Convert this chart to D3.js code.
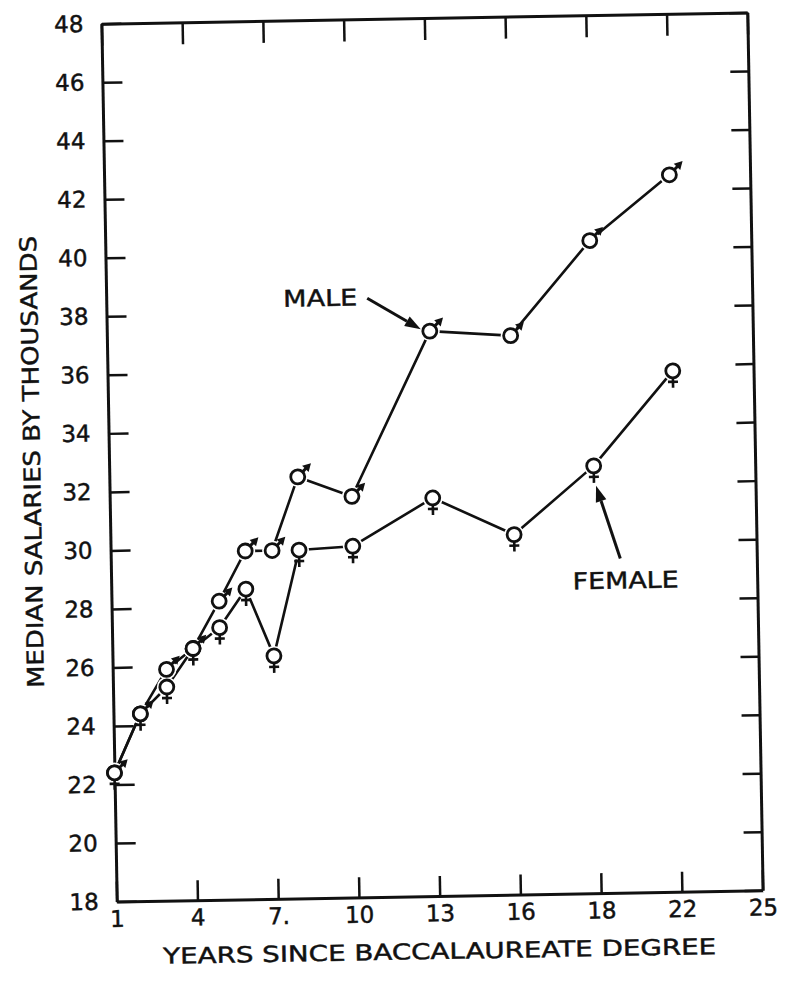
<!DOCTYPE html>
<html><head><meta charset="utf-8">
<script src="https://cdn.jsdelivr.net/npm/d3@7"></script>
<style>body{margin:0;background:#fff} svg{display:block}</style>
</head><body>
<svg id="chart" width="786" height="985"></svg>
<script>
// ---- data ----
const yearTicks = [1, 4, 7, 10, 13, 16, 18, 22, 25];
const yearTickLabels = ["1", "4", "7.", "10", "13", "16", "18", "22", "25"];
const salaryTicks = [18, 20, 22, 24, 26, 28, 30, 32, 34, 36, 38, 40, 42, 44, 46, 48];
const years = [1, 2, 3, 4, 5, 6, 7, 8, 10, 13, 16, 18, 22];
const maleSalary = [22.4, 24.4, 25.9, 26.6, 28.2, 29.9, 29.9, 32.4, 31.7, 37.3, 37.1, 40.3, 42.5];
const femaleSalary = [22.4, 24.4, 25.3, 26.6, 27.3, 28.6, 26.3, 29.9, 30.0, 31.6, 30.3, 32.6, 35.8];
const xTitle = "YEARS SINCE BACCALAUREATE DEGREE";
const yTitle = "MEDIAN SALARIES BY THOUSANDS";
const maleLabel = "MALE", femaleLabel = "FEMALE";
const maleLabelYear = 13, femaleLabelYear = 18;

// ---- layout ----
const L = 109, R = 755, T = 18, B = 896;
const ink = "#111";
const font = "'DejaVu Sans', Verdana, sans-serif";
const svg = d3.select("#chart");
const g = svg.append("g").attr("transform", `rotate(-1 ${(L + R) / 2} ${(T + B) / 2})`);

const x = d3.scaleLinear().domain(yearTicks)
  .range(yearTicks.map((d, i) => L + i * (R - L) / (yearTicks.length - 1)));
const y = d3.scaleLinear().domain([18, 48]).range([B, T]);

function textStyle(sel, size) {
  sel.attr("fill", ink).attr("stroke", ink).attr("stroke-width", 0.45)
    .style("font-family", font).style("font-size", size + "px");
}
function styleAxis(sel) {
  sel.select(".domain").attr("stroke", ink).attr("stroke-width", 3).attr("fill", "none");
  sel.selectAll(".tick line").attr("stroke", ink).attr("stroke-width", 2.5);
  sel.selectAll(".tick text").call(textStyle, 23);
}

g.append("g").attr("transform", `translate(0,${B})`)
  .call(d3.axisBottom(x).tickValues(yearTicks).tickFormat(d => yearTickLabels[yearTicks.indexOf(d)])
    .tickSizeInner(-20).tickSizeOuter(0).tickPadding(9))
  .call(styleAxis);
g.append("g").attr("transform", `translate(0,${T})`)
  .call(d3.axisTop(x).tickValues(yearTicks).tickFormat("").tickSizeInner(-22).tickSizeOuter(0))
  .call(styleAxis);
g.append("g").attr("transform", `translate(${L},0)`)
  .call(d3.axisLeft(y).tickValues(salaryTicks).tickFormat(d3.format("d"))
    .tickSizeInner(-20).tickSizeOuter(0).tickPadding(18))
  .call(styleAxis);
g.append("g").attr("transform", `translate(${R},0)`)
  .call(d3.axisRight(y).tickValues(salaryTicks).tickFormat("").tickSizeInner(-18).tickSizeOuter(0))
  .call(styleAxis);

// axis titles
g.append("text").attr("x", (L + R) / 2 - 1).attr("y", 959).attr("text-anchor", "middle")
  .attr("textLength", 553).attr("lengthAdjust", "spacingAndGlyphs")
  .call(textStyle, 22).text(xTitle);
g.append("text").attr("transform", "translate(40,455) rotate(-90)").attr("text-anchor", "middle")
  .attr("textLength", 452).attr("lengthAdjust", "spacingAndGlyphs")
  .call(textStyle, 23).text(yTitle);

// ---- series ----
const maleData = years.map((yr, i) => ({ year: yr, v: maleSalary[i] }));
const femaleData = years.map((yr, i) => ({ year: yr, v: femaleSalary[i] }));
const line = d3.line().x(d => x(d.year)).y(d => y(d.v));
[maleData, femaleData].forEach(data => {
  g.append("path").datum(data).attr("d", line).attr("fill", "none")
    .attr("stroke", ink).attr("stroke-width", 2.6).attr("stroke-linejoin", "round");
});

const r = 7;
// halos to break lines near symbols
[maleData, femaleData].forEach(data => {
  g.append("g").selectAll("circle").data(data).join("circle")
    .attr("cx", d => x(d.year)).attr("cy", d => y(d.v)).attr("r", r + 3).attr("fill", "#fff");
});

// female symbols
const fem = g.append("g").selectAll("g").data(femaleData).join("g")
  .attr("transform", d => `translate(${x(d.year)},${y(d.v)})`);
fem.append("line").attr("x1", 0).attr("x2", 0).attr("y1", r).attr("y2", r + 10)
  .attr("stroke", ink).attr("stroke-width", 2.6);
fem.append("line").attr("x1", -5).attr("x2", 5).attr("y1", r + 4).attr("y2", r + 4)
  .attr("stroke", ink).attr("stroke-width", 2.6);
fem.append("circle").attr("r", r).attr("fill", "#fff").attr("stroke", ink).attr("stroke-width", 2.8);

// male symbols
const mal = g.append("g").selectAll("g").data(maleData).join("g")
  .attr("transform", d => `translate(${x(d.year)},${y(d.v)}) rotate(-45)`);
mal.append("line").attr("x1", r).attr("x2", r + 6).attr("y1", 0).attr("y2", 0)
  .attr("stroke", ink).attr("stroke-width", 3);
mal.append("path").attr("d", `M${r + 12},0 L${r + 4},-4.5 L${r + 4},4.5 Z`).attr("fill", ink);
mal.append("circle").attr("r", r).attr("fill", "#fff").attr("stroke", ink).attr("stroke-width", 2.8);

// ---- annotations ----
function arrow(x1, y1, x2, y2) {
  const ang = Math.atan2(y2 - y1, x2 - x1);
  const hl = 16, hw = 5.5;
  const bx = x2 - hl * Math.cos(ang), by = y2 - hl * Math.sin(ang);
  g.append("line").attr("x1", x1).attr("y1", y1).attr("x2", bx).attr("y2", by)
    .attr("stroke", ink).attr("stroke-width", 3);
  g.append("path").attr("fill", ink).attr("d",
    `M${x2},${y2} L${bx - hw * Math.sin(ang)},${by + hw * Math.cos(ang)} L${bx + hw * Math.sin(ang)},${by - hw * Math.cos(ang)} Z`);
}
const mi = years.indexOf(maleLabelYear);
const mx = x(maleLabelYear), my = y(maleSalary[mi]);
arrow(mx - 62, my - 34, mx - r - 2, my - 2);
g.append("text").attr("x", mx - 72).attr("y", my - 27).attr("text-anchor", "end")
  .attr("textLength", 74).attr("lengthAdjust", "spacingAndGlyphs")
  .call(textStyle, 23).text(maleLabel);

const fi = years.indexOf(femaleLabelYear);
const fx = x(femaleLabelYear), fy = y(femaleSalary[fi]);
arrow(fx + 25, fy + 93, fx + 2, fy + 20);
g.append("text").attr("x", fx + 30).attr("y", fy + 123).attr("text-anchor", "middle")
  .attr("textLength", 106).attr("lengthAdjust", "spacingAndGlyphs")
  .call(textStyle, 23).text(femaleLabel);
</script>
</body></html>
